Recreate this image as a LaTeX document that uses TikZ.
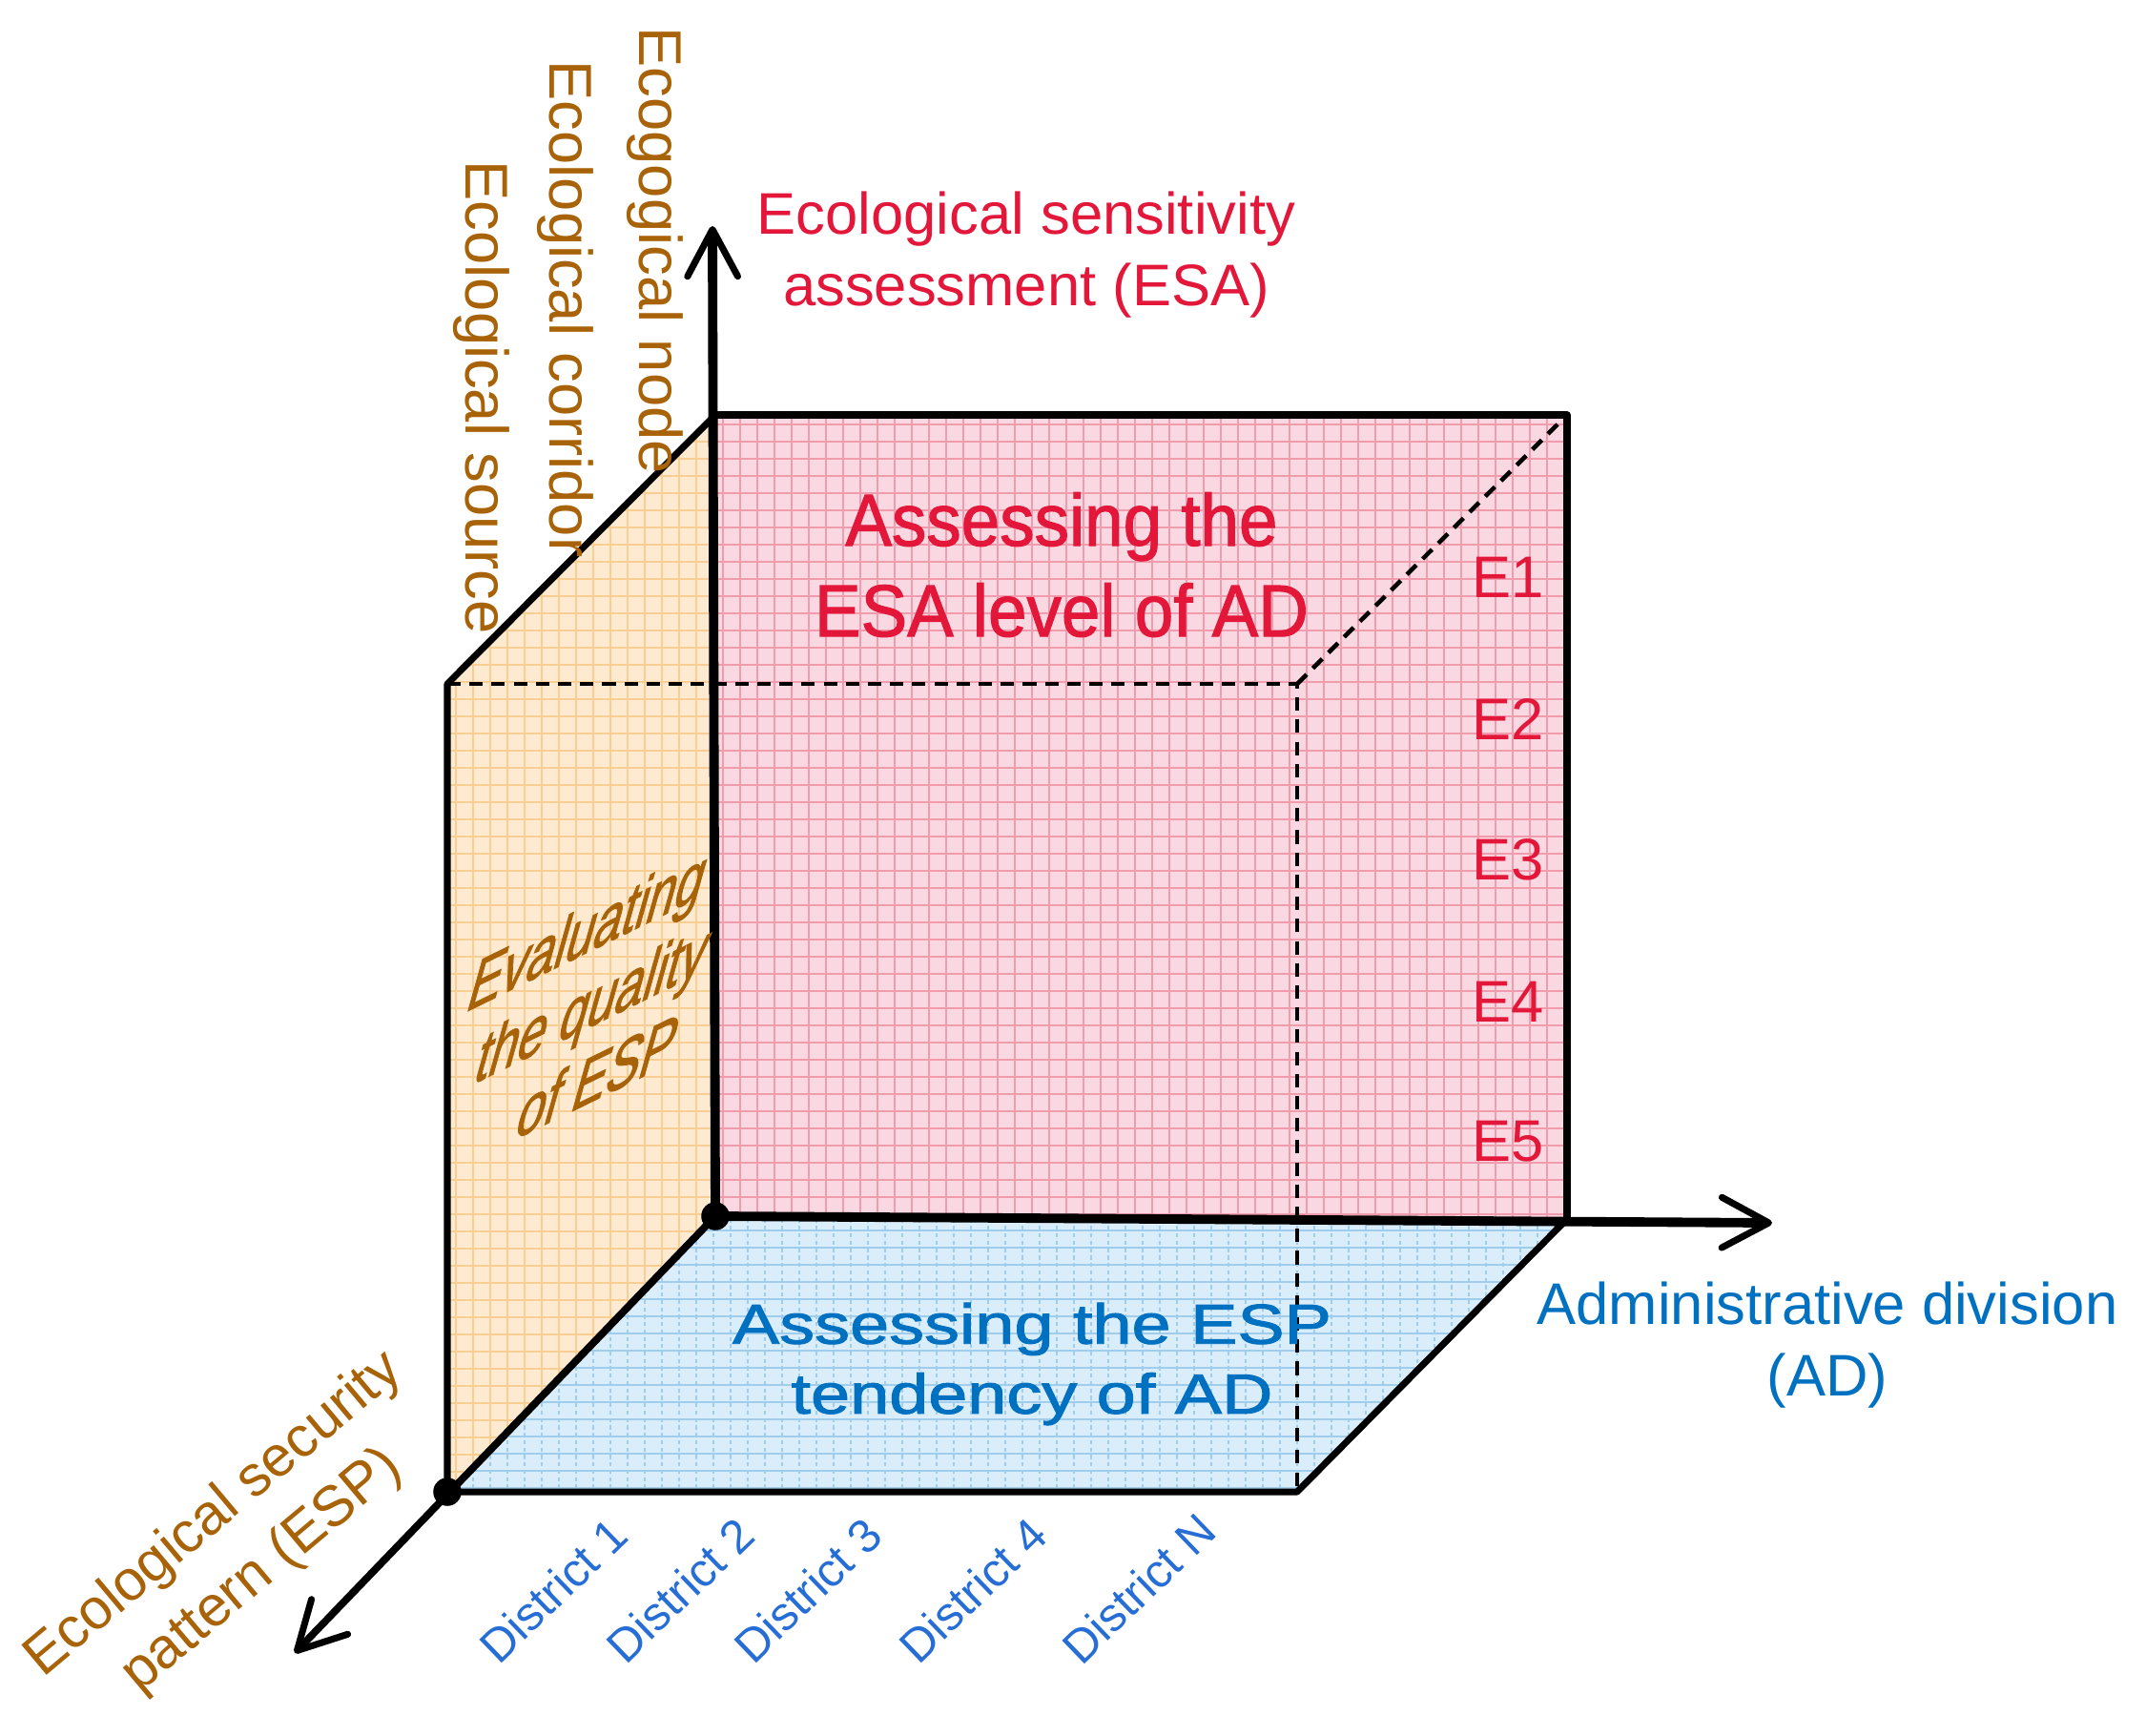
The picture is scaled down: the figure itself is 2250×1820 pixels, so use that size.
\documentclass[tikz,border=0pt]{standalone}
\usepackage{fontspec}
\setmainfont{Liberation Sans}
\newfontfamily\slantfont[FakeSlant=0.5,FakeBold=1.5]{Liberation Sans}
\newfontfamily\heavyfont[FakeBold=1.5]{Liberation Sans}
\usetikzlibrary{arrows.meta}
\definecolor{esared}{RGB}{226,23,58}
\definecolor{espbrown}{RGB}{168,98,8}
\definecolor{adblue}{RGB}{0,112,192}
\definecolor{distblue}{RGB}{38,110,214}
\definecolor{pinkfill}{RGB}{250,216,225}
\definecolor{pinkline}{RGB}{241,155,175}
\definecolor{orangefill}{RGB}{253,234,208}
\definecolor{orangeline}{RGB}{249,206,146}
\definecolor{bluefill}{RGB}{218,237,250}
\definecolor{blueline}{RGB}{160,205,236}
\begin{document}
\begin{tikzpicture}[x=0.01cm,y=-0.01cm,
  edge/.style={line width=2pt, line join=round, line cap=round},
  dashedge/.style={line width=1.3pt, dash pattern=on 4pt off 2.6pt},
  axisline/.style={line width=2.8pt},
  axarrow/.style={-{Straight Barb[length=14pt,width=15pt,line width=2pt,round]}},
  lab/.style={inner sep=0pt, align=center},
  vlab/.style={lab, text=espbrown, font=\fontsize{18}{21}\selectfont, rotate=-90, anchor=west},
  elab/.style={lab, text=esared, font=\fontsize{17.5}{21}\selectfont},
  dlab/.style={lab, text=distblue, font=\fontsize{14}{16}\selectfont, rotate=44},
  pinkgrid/.style={draw=pinkline, line width=0.6pt},
  orangegrid/.style={draw=orangeline, line width=0.6pt},
  bluegridh/.style={draw=blueline, line width=0.5pt},
  bluegridv/.style={draw=blueline, line width=0.5pt, dash pattern=on 1.2pt off 1pt}
]
\useasboundingbox (0,0) rectangle (2250,1820);
% corner points
\coordinate (O) at (750,1275);
\coordinate (BTL) at (750,435);
\coordinate (BTR) at (1643,435);
\coordinate (BBR) at (1643,1278);
\coordinate (FTL) at (469,717);
\coordinate (FTR) at (1360,717);
\coordinate (FBL) at (469,1564);
\coordinate (FBR) at (1360,1564);
\coordinate (Ztip) at (747,237);
\coordinate (Xtip) at (1858,1282);
\coordinate (Ytip) at (309,1733);

% back face (pink grid)
\begin{scope}
  \clip (BTL) -- (BTR) -- (BBR) -- (O) -- cycle;
  \fill[pinkfill] (BTL) -- (BTR) -- (BBR) -- (O) -- cycle;
  \foreach \x in {758,776,...,1640} \draw[pinkgrid] (\x,430) -- (\x,1285);
  \foreach \y in {445,463,...,1280} \draw[pinkgrid] (745,\y) -- (1650,\y);
\end{scope}
% left face (orange grid)
\begin{scope}
  \clip (BTL) -- (FTL) -- (FBL) -- (O) -- cycle;
  \fill[orangefill] (BTL) -- (FTL) -- (FBL) -- (O) -- cycle;
  \foreach \x in {478,496,...,750} \draw[orangegrid] (\x,430) -- (\x,1570);
  \foreach \y in {445,463,...,1570} \draw[orangegrid] (465,\y) -- (755,\y);
\end{scope}
% bottom face (blue dashed grid)
\begin{scope}
  \clip (O) -- (BBR) -- (FBR) -- (FBL) -- cycle;
  \fill[bluefill] (O) -- (BBR) -- (FBR) -- (FBL) -- cycle;
  \foreach \y in {1290,1308,...,1564} \draw[bluegridh] (465,\y) -- (1650,\y);
  \foreach \x in {478,496,...,1645} \draw[bluegridv] (\x,1270) -- (\x,1570);
\end{scope}

% edges
\draw[edge] (BTL) -- (BTR) -- (BBR);
\draw[edge] (BTL) -- (FTL) -- (FBL) -- (FBR) -- (BBR);
\draw[dashedge] (FTL) -- (FTR) -- (FBR);
\draw[dashedge] (FTR) -- (BTR);

% axes
\draw[axisline, axarrow] (O) -- (Ztip);
\draw[axisline, axarrow] (O) -- (Xtip);
\draw[edge, line width=2.2pt, axarrow] (O) -- (Ytip);
\fill (O) circle (4.2pt);
\fill (FBL) circle (4.2pt);

% labels
\node[lab, text=esared, font=\fontsize{17.5}{21.3}\selectfont] (esa) at (1076,267) {Ecological sensitivity\\assessment (ESA)};
\node[vlab] (enode) at (687,28) {Ecogogical node};
\node[vlab] (ecorr) at (593,63) {Ecological corridor};
\node[vlab] (esrc) at (505,168) {Ecological source};

\node[lab, text=esared, font=\heavyfont\fontsize{20.7}{25.5}\selectfont, yscale=1.06] (esalevel) at (1113,592) {Assessing the\\ESA level of AD};

\node[elab] (e1) at (1581,605) {E1};
\node[elab] (e2) at (1581,754) {E2};
\node[elab] (e3) at (1581,901) {E3};
\node[elab] (e4) at (1581,1050) {E4};
\node[elab] (e5) at (1581,1197) {E5};

\node[lab, text=espbrown, font=\slantfont\fontsize{15}{17.5}\selectfont, cm={1,0.49,-0.08,1.25,(0,0)}] (evalq) at (613,1055) {Evaluating\\the quality\\of ESP};

\node[lab, text=adblue, font=\heavyfont\fontsize{21}{26}\selectfont, yscale=0.8] (esptend) at (1082,1430) {Assessing the ESP\\tendency of AD};

\node[lab, text=adblue, font=\fontsize{17.5}{21.3}\selectfont] (adlab) at (1916,1410) {Administrative division\\(AD)};

\node[lab, text=espbrown, font=\fontsize{17}{22}\selectfont, rotate=40] (esplab) at (250,1618) {Ecological security\\pattern (ESP)};

\node[dlab] (d1) at (580,1667) {District 1};
\node[dlab] (d2) at (713,1667) {District 2};
\node[dlab] (d3) at (847,1667) {District 3};
\node[dlab] (d4) at (1020,1667) {District 4};
\node[dlab] (dn) at (1194,1665) {District N};
\end{tikzpicture}
\end{document}
